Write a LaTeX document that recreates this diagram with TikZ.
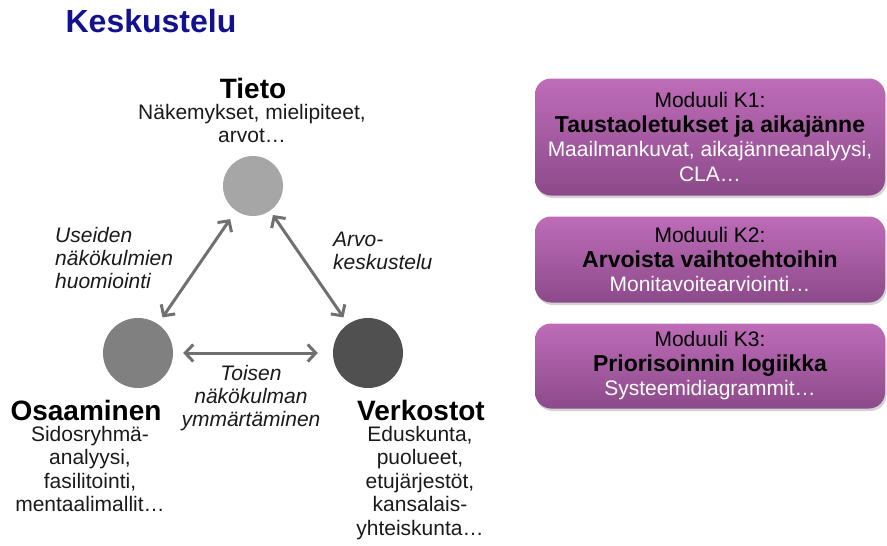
\documentclass[tikz,border=0pt]{standalone}
\usepackage{fontspec}
\setmainfont{Liberation Sans}
\usetikzlibrary{arrows.meta,shadows}
\definecolor{titleblue}{RGB}{18,18,145}
\definecolor{inkgray}{RGB}{26,26,26}
\definecolor{arrowgray}{RGB}{112,112,112}
\definecolor{dotlight}{RGB}{166,166,166}
\definecolor{dotmid}{RGB}{128,128,128}
\definecolor{dotdark}{RGB}{80,80,80}
\definecolor{plumtop}{RGB}{190,108,184}
\definecolor{plumbot}{RGB}{140,74,138}
\newcommand\modheadfont{\bfseries\fontsize{23}{24.5}\selectfont}
\tikzset{
  body/.style={font=\fontsize{21}{23.5}\selectfont, text=inkgray, align=center, inner sep=0pt},
  headline/.style={font=\bfseries\fontsize{28}{30}\selectfont, text=black, inner sep=0pt},
  remark/.style={font=\itshape\fontsize{21}{23}\selectfont, text=inkgray, inner sep=0pt},
  dot/.style={circle, draw=none, inner sep=0pt},
  link/.style={draw=arrowgray, line width=3pt,
    {Straight Barb[length=8pt,width=17pt]}-{Straight Barb[length=8pt,width=17pt]}},
  modulebox/.style={rounded corners=16pt, minimum width=350pt, align=center,
    top color=plumtop, bottom color=plumbot, draw=none, inner sep=0pt,
    font=\fontsize{21}{24.5}\selectfont,
    drop shadow={opacity=0.35, shadow xshift=1.5pt, shadow yshift=-2.5pt}}
}
\begin{document}
\begin{tikzpicture}[x=1pt,y=-1pt]
\useasboundingbox (0,0) rectangle (887,546);

% title
\node[font=\bfseries\fontsize{32}{34}\selectfont, text=titleblue, inner sep=0pt] (title) at (151,21) {Keskustelu};

% the three circles
\node[dot, fill=dotlight, minimum size=60pt] (tieto) at (253,186) {};
\node[dot, fill=dotmid, minimum size=70pt] (osa) at (138,353) {};
\node[dot, fill=dotdark, minimum size=70pt] (verk) at (368,353) {};

% two-way arrows between them
\draw[link, shorten <=8pt, shorten >=10pt] (osa) -- (tieto);
\draw[link, shorten <=5pt, shorten >=8pt] (tieto) -- (verk);
\draw[link, shorten <=10pt, shorten >=15pt] (osa) -- (verk);

% Tieto
\node[headline] (tietoh) at (253,88) {Tieto};
\node[body, anchor=north] (tietob) at (252,104) {Näkemykset, mielipiteet,\\arvot…};

% Osaaminen
\node[headline] (osah) at (86,410) {Osaaminen};
\node[body, anchor=north] (osab) at (90,426) {Sidosryhmä-\\analyysi,\\fasilitointi,\\mentaalimallit…};

% Verkostot
\node[headline] (verkh) at (421,410) {Verkostot};
\node[body, anchor=north] (verkb) at (420,426) {Eduskunta,\\puolueet,\\etujärjestöt,\\kansalais-\\yhteiskunta…};

% arrow labels
\node[remark, anchor=north west, align=left] (lblleft) at (55,227) {Useiden\\näkökulmien\\huomiointi};
\node[remark, anchor=north west, align=left] (lblright) at (333,232) {Arvo-\\keskustelu};
\node[remark, anchor=north, align=center] (lblmid) at (251,365) {Toisen\\näkökulman\\ymmärtäminen};

% module boxes
\node[modulebox, minimum height=117pt] (k1) at (710,137)
  {Moduuli K1:\\{\modheadfont Taustaoletukset ja aikajänne}\\\textcolor{white}{Maailmankuvat, aikajänneanalyysi,}\\\textcolor{white}{CLA…}};
\node[modulebox, minimum height=86pt] (k2) at (710,259.5)
  {Moduuli K2:\\{\modheadfont Arvoista vaihtoehtoihin}\\\textcolor{white}{Monitavoitearviointi…}};
\node[modulebox, minimum height=85pt] (k3) at (710,366)
  {Moduuli K3:\\{\modheadfont Priorisoinnin logiikka}\\\textcolor{white}{Systeemidiagrammit…}};
\end{tikzpicture}
\end{document}
